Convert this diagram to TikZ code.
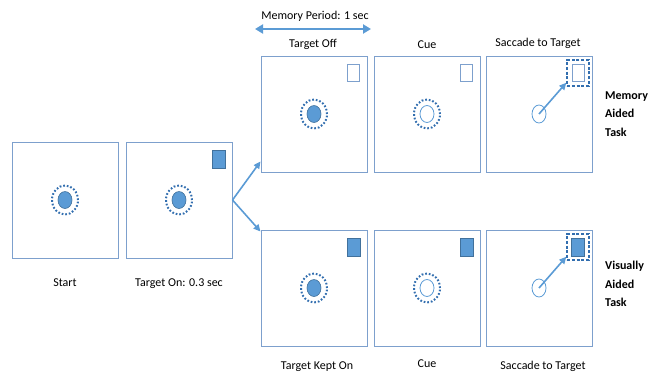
\documentclass[tikz,border=0pt]{standalone}
\usepackage{fontspec}
\setmainfont{Carlito}
\usetikzlibrary{arrows.meta,calc,shapes.geometric}
\definecolor{frame}{RGB}{125,160,205}
\definecolor{fillb}{RGB}{91,155,213}
\definecolor{darkb}{RGB}{50,110,175}
\definecolor{edgeb}{RGB}{65,113,156}
\begin{document}
\begin{tikzpicture}[x=1pt,y=-1pt,
  panel/.style={draw=frame, line width=1pt, minimum width=106pt, minimum height=116pt, inner sep=0pt},
  ring/.style={ellipse, draw=darkb, line width=2pt, dash pattern=on 1.7pt off 1.9pt, minimum width=26pt, minimum height=29pt, inner sep=0pt},
  fixdot/.style={ellipse, fill=fillb, draw=edgeb, line width=0.6pt, minimum width=14pt, minimum height=17pt, inner sep=0pt},
  fixopen/.style={ellipse, fill=white, draw=fillb, line width=0.8pt, minimum width=14pt, minimum height=17pt, inner sep=0pt},
  startpt/.style={ellipse, draw=fillb, line width=0.8pt, minimum width=14pt, minimum height=18pt, inner sep=0pt},
  tgt/.style={rectangle, fill=fillb, draw=edgeb, line width=0.5pt, minimum width=13pt, minimum height=18pt, inner sep=0pt},
  tgtoff/.style={rectangle, fill=white, draw=frame, line width=0.8pt, minimum width=12pt, minimum height=17pt, inner sep=0pt},
  dbox/.style={rectangle, draw=darkb, line width=1.5pt, dash pattern=on 3pt off 1.8pt, minimum width=22pt, minimum height=26pt, inner sep=0pt},
  arr/.style={draw=fillb, line width=1.6pt, -{Triangle[length=7pt,width=6.5pt]}},
  lbl/.style={font=\fontsize{12}{14}\selectfont, inner sep=0pt},
  task/.style={font=\fontsize{12}{18.5}\selectfont\bfseries, inner sep=0pt, align=left, anchor=west}]
\useasboundingbox (0,0) rectangle (660,375);
% panels
\node[panel] (start) at (65,200) {};
\node[panel] (ton) at (179,200) {};
\node[panel] (toff) at (314,114) {};
\node[panel] (cuet) at (427,114) {};
\node[panel] (sact) at (539,114) {};
\node[panel] (tkept) at (314,288) {};
\node[panel] (cueb) at (427,288) {};
\node[panel] (sacb) at (539,288) {};
% fixation points
\node[ring] (r1) at (start) {};
\node[fixdot] (f1) at (start) {};
\node[ring] (r2) at (ton) {};
\node[fixdot] (f2) at (ton) {};
\node[ring] (r3) at (toff) {};
\node[fixdot] (f3) at (toff) {};
\node[ring] (r4) at (cuet) {};
\node[fixopen] (f4) at (cuet) {};
\node[ring] (r5) at (tkept) {};
\node[fixdot] (f5) at (tkept) {};
\node[ring] (r6) at (cueb) {};
\node[fixopen] (f6) at (cueb) {};
% targets
\node[tgt] (t2) at ($(ton)+(39.5,-41)$) {};
\node[tgtoff] (t3) at ($(toff)+(39.5,-41)$) {};
\node[tgtoff] (t4) at ($(cuet)+(39.5,-41)$) {};
\node[tgt] (t5) at ($(tkept)+(39.5,-41)$) {};
\node[tgt] (t6) at ($(cueb)+(39.5,-41)$) {};
% saccade panels
\node[startpt] (s1) at (sact) {};
\node[dbox] (d1) at ($(sact)+(39,-41)$) {};
\node[tgtoff] (t7) at (d1) {};
\node[startpt] (s2) at (sacb) {};
\node[dbox] (d2) at ($(sacb)+(39,-41)$) {};
\node[tgt] (t8) at (d2) {};
\draw[arr] (s1.center) -- ($(d1.south west)+(0,-4)$);
\draw[arr] (s2.center) -- ($(d2.south west)+(0,-4)$);
% branch arrows
\draw[arr] (ton.east) -- ($(toff.south west)+(0,-11)$);
\draw[arr] (ton.east) -- ($(tkept.north west)+(0,2)$);
% memory period arrow
\coordinate (ma1) at (255,29);
\coordinate (ma2) at (371,29);
\draw[draw=fillb, line width=2.6pt, {Triangle[length=8pt,width=9pt]}-{Triangle[length=8pt,width=9pt]}] (ma1) -- (ma2);
% labels
\node[lbl] (lmem) at (315,16) {Memory Period: 1 sec};
\node[lbl] (ltoff) at (313,44) {Target Off};
\node[lbl] (lcuet) at (427,45) {Cue};
\node[lbl] (lsact) at (538,43) {Saccade to Target};
\node[lbl] (lstart) at (65,283) {Start};
\node[lbl] (lton) at (179,284) {Target On: 0.3 sec};
\node[lbl] (ltkept) at (317,367) {Target Kept On};
\node[lbl] (lcueb) at (427,364) {Cue};
\node[lbl] (lsacb) at (543,366) {Saccade to Target};
\node[task] (mat) at (605,114) {Memory\\Aided\\Task};
\node[task] (vat) at (605,284) {Visually\\Aided\\Task};
\end{tikzpicture}
\end{document}
